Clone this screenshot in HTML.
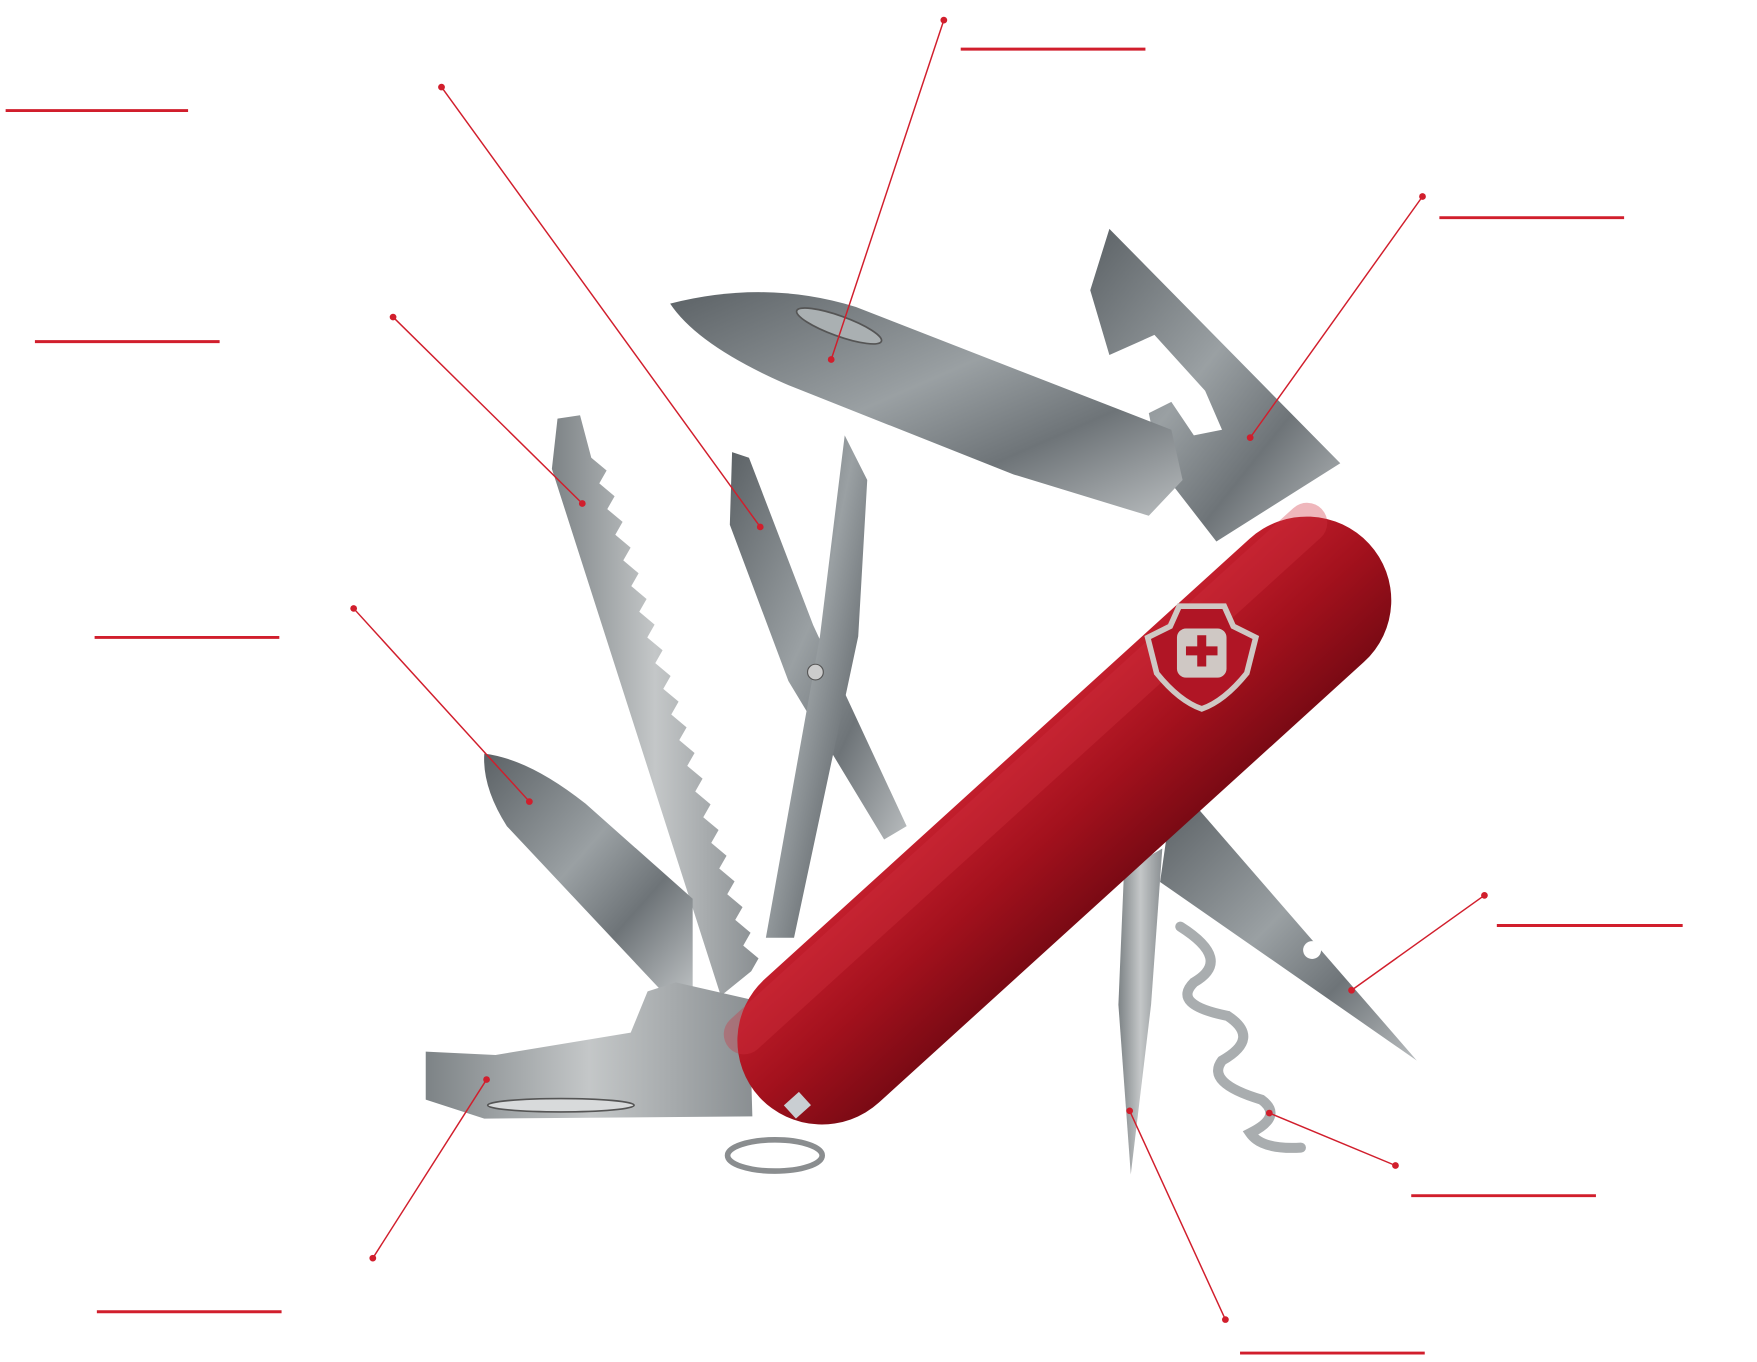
<!DOCTYPE html>
<html><head><style>html,body{margin:0;padding:0;background:#fff;overflow:hidden}svg{display:block}</style></head>
<body>
<svg width="1757" height="1362" viewBox="0 0 1560 1220" preserveAspectRatio="none" xmlns="http://www.w3.org/2000/svg">
<defs>
<linearGradient id="steel" x1="0" y1="0" x2="1" y2="1">
<stop offset="0" stop-color="#5c6266"/><stop offset="0.45" stop-color="#9aa0a3"/><stop offset="0.7" stop-color="#6e7478"/><stop offset="1" stop-color="#b8bcbe"/></linearGradient>
<linearGradient id="steel2" x1="0" y1="0" x2="1" y2="0">
<stop offset="0" stop-color="#7d8386"/><stop offset="0.5" stop-color="#c4c7c8"/><stop offset="1" stop-color="#8a8f92"/></linearGradient>
<linearGradient id="red" x1="0" y1="0" x2="0" y2="1">
<stop offset="0" stop-color="#c21e2c"/><stop offset="0.5" stop-color="#a3111d"/><stop offset="1" stop-color="#7a0a14"/></linearGradient>
</defs>
<!-- can opener -->
<path d="M985,205 L1190,415 L1080,485 L1030,420 L1020,370 L1040,360 L1060,390 L1085,385 L1070,350 L1025,300 L985,318 L968,260 Z" fill="url(#steel)"/>
<!-- main blade -->
<path d="M595,272 Q680,250 760,275 L1040,385 L1050,430 L1020,462 L900,425 L700,345 Q620,310 595,272 Z" fill="url(#steel)"/>
<ellipse cx="745" cy="292" rx="40" ry="9" transform="rotate(20 745 292)" fill="#aab0b2" stroke="#555" stroke-width="1.5"/>
<!-- saw -->
<path d="M495,375 L515,372 L525,410 l13.6,11.5 l-6.5,11.5 l13.6,11.5 l-6.5,11.5 l13.6,11.5 l-6.5,11.5 l13.6,11.5 l-6.5,11.5 l13.6,11.5 l-6.5,11.5 l13.6,11.5 l-6.5,11.5 l13.6,11.5 l-6.5,11.5 l13.6,11.5 l-6.5,11.5 l13.6,11.5 l-6.5,11.5 l13.6,11.5 l-6.5,11.5 l13.6,11.5 l-6.5,11.5 l13.6,11.5 l-6.5,11.5 l13.6,11.5 l-6.5,11.5 l13.6,11.5 l-6.5,11.5 l13.6,11.5 l-6.5,11.5 l13.6,11.5 l-6.5,11.5 l13.6,11.5 l-6.5,11.5 l13.6,11.5 l-6.5,11.5 l13.6,11.5 l-6.5,11.5 l13.6,11.5 l-6.5,11.5 L640,892 L490,420 Z" fill="url(#steel2)"/>
<!-- scissors -->
<path d="M650,405 L665,410 L722,560 L805,740 L785,752 L700,610 L648,470 Z" fill="url(#steel)"/>
<path d="M750,390 L770,430 L762,570 L705,840 L680,840 L728,570 Z" fill="url(#steel)"/>
<circle cx="724" cy="602" r="7" fill="#ccc" stroke="#555"/>
<!-- small blade -->
<path d="M430,675 Q470,680 520,720 L615,805 L615,885 L585,885 L450,740 Q428,705 430,675 Z" fill="url(#steel)"/>
<!-- bottle opener -->
<path d="M378,942 L440,945 L560,925 L575,888 L600,880 L665,895 L668,1000 L430,1002 L378,985 Z" fill="url(#steel2)"/>
<ellipse cx="498" cy="990" rx="65" ry="6" fill="#d8dadb" stroke="#555" stroke-width="1.5"/>
<!-- lower right blade -->
<path d="M1040,720 L1060,720 L1258,950 L1030,790 Z" fill="url(#steel)"/>
<circle cx="1165" cy="851" r="8" fill="#fff"/>
<!-- awl -->
<path d="M998,780 L1032,760 L1022,900 L1004,1052 L993,900 Z" fill="url(#steel2)"/>
<!-- corkscrew -->
<path d="M1048,830 Q1095,860 1060,880 Q1040,900 1090,910 Q1120,930 1085,950 Q1070,970 1120,985 Q1140,1000 1110,1015 Q1120,1030 1155,1028" fill="none" stroke="#a9adaf" stroke-width="9" stroke-linecap="round"/>
<!-- ring -->
<ellipse cx="688" cy="1035" rx="42" ry="14" fill="none" stroke="#8a8d8f" stroke-width="5"/>
<!-- body -->
<g transform="rotate(-42.5 945 735)">
<rect x="578" y="660" width="734" height="150" rx="75" fill="url(#red)"/>
<rect x="588" y="666" width="714" height="36" rx="18" fill="#d03040" opacity="0.35"/>
</g>
<rect x="699" y="982" width="18" height="16" fill="#c9ced2" transform="rotate(-42 708 990)"/>
<!-- logo -->
<g transform="translate(1067,583)">
<path d="M-48,-12 L-28,-22 L-20,-40 L20,-40 L28,-22 L48,-12 L40,20 Q20,45 0,52 Q-20,45 -40,20 Z" fill="#b01525" stroke="#cfc8c4" stroke-width="5"/>
<rect x="-22" y="-20" width="44" height="44" rx="8" fill="#cfc8c4"/>
<path d="M-4,-14 h8 v10 h10 v8 h-10 v10 h-8 v-10 h-10 v-8 h10 z" fill="#b01525"/>
</g>
<!-- annotations -->
<g stroke="#d11e2c" fill="none">
<g stroke-width="2.6">
<line x1="5" y1="99" x2="167" y2="99"/>
<line x1="853" y1="44" x2="1017" y2="44"/>
<line x1="1278" y1="195" x2="1442" y2="195"/>
<line x1="31" y1="306" x2="195" y2="306"/>
<line x1="84" y1="571" x2="248" y2="571"/>
<line x1="86" y1="1175" x2="250" y2="1175"/>
<line x1="1329" y1="829" x2="1494" y2="829"/>
<line x1="1253" y1="1071" x2="1417" y2="1071"/>
<line x1="1101" y1="1212" x2="1265" y2="1212"/>
</g>
<g stroke-width="1.3">
<line x1="838" y1="18" x2="738" y2="322"/>
<line x1="392" y1="78" x2="675" y2="472"/>
<line x1="1263" y1="176" x2="1110" y2="392"/>
<line x1="349" y1="284" x2="517" y2="451"/>
<line x1="314" y1="545" x2="470" y2="718"/>
<line x1="331" y1="1127" x2="432" y2="967"/>
<line x1="1318" y1="802" x2="1200" y2="887"/>
<line x1="1239" y1="1044" x2="1127" y2="997"/>
<line x1="1088" y1="1182" x2="1003" y2="995"/>
</g>
</g>
<g fill="#d11e2c">
<circle cx="838" cy="18" r="3"/><circle cx="738" cy="322" r="3"/>
<circle cx="392" cy="78" r="3"/><circle cx="675" cy="472" r="3"/>
<circle cx="1263" cy="176" r="3"/><circle cx="1110" cy="392" r="3"/>
<circle cx="349" cy="284" r="3"/><circle cx="517" cy="451" r="3"/>
<circle cx="314" cy="545" r="3"/><circle cx="470" cy="718" r="3"/>
<circle cx="331" cy="1127" r="3"/><circle cx="432" cy="967" r="3"/>
<circle cx="1318" cy="802" r="3"/><circle cx="1200" cy="887" r="3"/>
<circle cx="1239" cy="1044" r="3"/><circle cx="1127" cy="997" r="3"/>
<circle cx="1088" cy="1182" r="3"/><circle cx="1003" cy="995" r="3"/>
</g>
</svg>
</body></html>
